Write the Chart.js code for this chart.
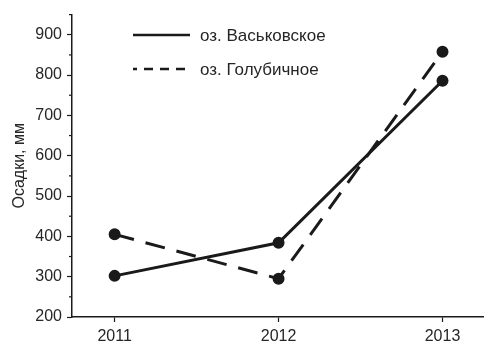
<!DOCTYPE html>
<html>
<head>
<meta charset="utf-8">
<script src="https://cdn.jsdelivr.net/npm/chart.js@4.4.1/dist/chart.umd.min.js"></script>
<style>
  html, body { margin: 0; padding: 0; background: #fff; }
  #wrap { width: 491px; height: 345px; }
</style>
</head>
<body>
<div id="wrap"><canvas id="c" width="491" height="345"></canvas></div>
<script>
var years = [2011, 2012, 2013];
var vaskovskoe = [302, 384, 786];
var golubichnoe = [405, 295, 858];
var seriesNames = ["оз. Васьковское", "оз. Голубичное"];
var yTitle = "Осадки, мм";

var FONT = "'Liberation Sans', Arial, sans-serif";

var toPoints = function( xs, ys ){
    return xs.map(function(x, i){ return { x: x, y: ys[i] }; });
};

// legend drawn inside the plot, two rows stacked
var legendPlugin = {
    id: "innerLegend",
    afterDraw: function( chart ){
        var ctx = chart.ctx;
        var rows = [
            { y: 35, dash: [], text: seriesNames[0] },
            { y: 69, dash: [9, 7], text: seriesNames[1] }
        ];
        ctx.save();
        rows.forEach(function(r){
            ctx.beginPath();
            ctx.setLineDash(r.dash);
            ctx.lineDashOffset = 5;
            ctx.lineWidth = 2.5;
            ctx.strokeStyle = "#1a1a1a";
            ctx.moveTo(133, r.y);
            ctx.lineTo(190, r.y);
            ctx.stroke();
            ctx.setLineDash([]);
            ctx.fillStyle = "#262626";
            ctx.font = "17px " + FONT;
            ctx.textBaseline = "middle";
            ctx.fillText(r.text, 200, r.y + 1);
        });
        ctx.restore();
    }
};

// short minor ticks on the y axis
var minorTicks = {
    id: "minorTicks",
    afterDraw: function( chart ){
        var y = chart.scales.y, ctx = chart.ctx;
        ctx.save();
        ctx.strokeStyle = "#1a1a1a";
        ctx.lineWidth = 1.2;
        y.ticks.forEach(function(t){
            if (t.value % 100 !== 0){
                var py = y.getPixelForValue(t.value);
                ctx.beginPath();
                ctx.moveTo(y.right - 3, py);
                ctx.lineTo(y.right, py);
                ctx.stroke();
            }
        });
        ctx.restore();
    }
};

var ctx = document.getElementById("c").getContext("2d");
var chart = new Chart(ctx, {
    type: "line",
    data: {
        datasets: [{
            label: seriesNames[0],
            data: toPoints(years, vaskovskoe),
            borderColor: "#1a1a1a",
            backgroundColor: "#1a1a1a",
            borderWidth: 3,
            pointRadius: 4.5,
            pointHoverRadius: 4.5,
            tension: 0
        }, {
            label: seriesNames[1],
            data: toPoints(years, golubichnoe),
            borderColor: "#1a1a1a",
            backgroundColor: "#1a1a1a",
            borderWidth: 3,
            borderDash: [20, 12],
            pointRadius: 4.5,
            pointHoverRadius: 4.5,
            tension: 0
        }]
    },
    options: {
        responsive: false,
        animation: false,
        layout: { padding: { top: 14, right: 4, left: 0, bottom: 0 } },
        plugins: { legend: { display: false }, tooltip: { enabled: false } },
        scales: {
            x: {
                type: "linear",
                min: 2010.74,
                max: 2013.25,
                afterBuildTicks: function( scale ){
                    scale.ticks = years.map(function(v){ return { value: v }; });
                },
                afterFit: function( scale ){ scale.height = 28; },
                border: { color: "#1a1a1a", width: 1.5 },
                grid: { drawOnChartArea: false, tickLength: 5, tickColor: "#1a1a1a", tickWidth: 1.2 },
                ticks: {
                    color: "#262626",
                    padding: 5,
                    font: { size: 16, family: FONT },
                    callback: function(v){ return String(v); }
                }
            },
            y: {
                min: 200,
                max: 950,
                afterBuildTicks: function( scale ){
                    var t = [];
                    for (var v = 200; v <= 950; v += 50) t.push({ value: v });
                    scale.ticks = t;
                },
                afterFit: function( scale ){ scale.width = 72; },
                title: {
                    display: true,
                    text: yTitle,
                    color: "#262626",
                    padding: { top: 10, bottom: 0 },
                    font: { size: 16, family: FONT }
                },
                border: { color: "#1a1a1a", width: 1.5 },
                grid: {
                    drawOnChartArea: false,
                    tickLength: 5,
                    tickWidth: 1.2,
                    tickColor: function(c){ return c.tick && c.tick.value % 100 === 0 ? "#1a1a1a" : "rgba(0,0,0,0)"; }
                },
                ticks: {
                    color: "#262626",
                    padding: 5,
                    autoSkip: false,
                    font: { size: 16, family: FONT },
                    callback: function(v){ return v % 100 === 0 && v <= 900 ? String(v) : ""; }
                }
            }
        }
    },
    plugins: [legendPlugin, minorTicks]
});
</script>
</body>
</html>
